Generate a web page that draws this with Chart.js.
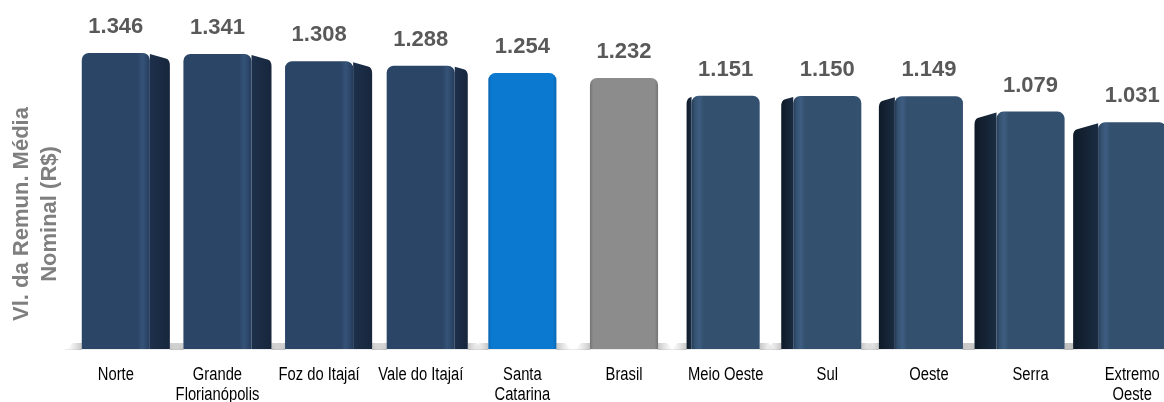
<!DOCTYPE html>
<html lang="pt-BR">
<head>
<meta charset="utf-8">
<title>Remuneração média nominal por mesorregião</title>
<script src="https://cdn.jsdelivr.net/npm/chart.js@4.4.1/dist/chart.umd.min.js"></script>
<style>
  html, body { margin: 0; padding: 0; background: #fff; overflow: hidden; }
  #wrap { position: relative; width: 1183px; height: 402px; }
</style>
</head>
<body>
<div id="wrap"><canvas id="chart"></canvas></div>
<script>
// Mesorregiões de SC, estado e país
const regioes = [
    'Norte', ['Grande', 'Florianópolis'], 'Foz do Itajaí', 'Vale do Itajaí',
    ['Santa', 'Catarina'], 'Brasil', 'Meio Oeste', 'Sul', 'Oeste', 'Serra',
    ['Extremo', 'Oeste']
];
// Remuneração média nominal (R$)
const remuneracao = [1346, 1341, 1308, 1288, 1254, 1232, 1151, 1150, 1149, 1079, 1031];

const eixoTitulo = ['Vl. da Remun. Média', 'Nominal (R$)'];

// Visual: profundidade da face lateral de cada barra (px)
const profundidade = [20, 20, 19, 13, 0, 0, 5, 12, 16, 22, 25];
const IDX_SC = 4, IDX_BR = 5;

function formatBR(v) {
    return String(v).replace(/\B(?=(\d{3})+(?!\d))/g, '.');
}

function ladoFace(i) {
    if (i < IDX_SC) return 1;    // face à direita
    if (i > IDX_BR) return -1;   // face à esquerda
    return 0;
}

// Cor da face frontal com um leve brilho junto à aresta lateral
function corFrente(ctx) {
    const chart = ctx.chart;
    const i = ctx.dataIndex;
    if (!chart.chartArea) return '#2c4668';
    const x = chart.scales.x.getPixelForValue(i);
    const w = chart.scales.x.getPixelForValue(1) - chart.scales.x.getPixelForValue(0);
    const half = w * 0.67 / 2;
    const g = chart.ctx.createLinearGradient(x - half, 0, x + half, 0);
    if (i === IDX_SC) {
        g.addColorStop(0, '#0a66b2');
        g.addColorStop(0.05, '#0b79d0');
        g.addColorStop(0.95, '#0b79d0');
        g.addColorStop(1, '#0a66b2');
        return g;
    }
    if (i === IDX_BR) {
        g.addColorStop(0, '#747474');
        g.addColorStop(0.05, '#8c8c8c');
        g.addColorStop(0.95, '#8c8c8c');
        g.addColorStop(1, '#747474');
        return g;
    }
    const base = i < IDX_SC ? '#2b4567' : '#33506f';
    const luz = i < IDX_SC ? '#355378' : '#3e5d81';
    const borda = i < IDX_SC ? '#243b5b' : '#243a55';
    if (ladoFace(i) === 1) {
        g.addColorStop(0, base);
        g.addColorStop(0.82, base);
        g.addColorStop(0.89, luz);
        g.addColorStop(0.96, base);
        g.addColorStop(1, borda);
    } else {
        g.addColorStop(0, borda);
        g.addColorStop(0.04, base);
        g.addColorStop(0.11, luz);
        g.addColorStop(0.18, base);
        g.addColorStop(1, base);
    }
    return g;
}

function sombra(ctx, x0, base, sentido) {
    const x1 = x0 + sentido * 15;
    const g = ctx.createLinearGradient(x0, 0, x1, 0);
    g.addColorStop(0, 'rgba(120,120,120,0.42)');
    g.addColorStop(1, 'rgba(170,170,170,0)');
    ctx.fillStyle = g;
    ctx.beginPath();
    ctx.moveTo(x0, base + 1);
    ctx.lineTo(x1, base + 1);
    ctx.lineTo(x1 - sentido * 6, base - 6);
    ctx.lineTo(x0, base - 6);
    ctx.closePath();
    ctx.fill();
}

// Sombra no piso, faces laterais, rótulos e título do eixo
const faces3d = {
    id: 'faces3d',
    beforeDatasetsDraw(chart) {
        const ctx = chart.ctx;
        const meta = chart.getDatasetMeta(0);
        ctx.save();
        meta.data.forEach((bar, i) => {
            const { x, y, base, width } = bar.getProps(['x', 'y', 'base', 'width'], true);
            const lado = ladoFace(i);
            const d = profundidade[i];
            let esq = x - width / 2, dir = x + width / 2;
            if (lado === 1) dir += d;
            if (lado === -1) esq -= d;

            sombra(ctx, esq, base, -1);
            sombra(ctx, dir, base, 1);

            if (!lado) return;
            const aresta = lado === 1 ? x + width / 2 : x - width / 2;
            const fora = aresta + lado * d;
            const queda = d * 0.28;
            const gl = ctx.createLinearGradient(aresta, 0, fora, 0);
            if (lado === 1) {
                gl.addColorStop(0, '#1d304b');
                gl.addColorStop(1, '#17263c');
            } else {
                gl.addColorStop(0, '#1b2c42');
                gl.addColorStop(1, '#0e1a27');
            }
            ctx.fillStyle = gl;
            ctx.beginPath();
            ctx.moveTo(aresta, y + 1);
            ctx.lineTo(fora - lado * 4, y + queda);
            ctx.quadraticCurveTo(fora, y + queda + 1, fora, y + queda + 7);
            ctx.lineTo(fora, base);
            ctx.lineTo(aresta, base);
            ctx.closePath();
            ctx.fill();
        });
        ctx.restore();
    },
    afterDatasetsDraw(chart) {
        const ctx = chart.ctx;
        const meta = chart.getDatasetMeta(0);
        ctx.save();
        ctx.font = 'bold 22px "Liberation Sans", Arial, sans-serif';
        ctx.fillStyle = '#595959';
        ctx.textAlign = 'center';
        ctx.textBaseline = 'alphabetic';
        meta.data.forEach((bar, i) => {
            ctx.fillText(formatBR(remuneracao[i]), bar.x, bar.y - 20);
        });
        ctx.restore();
    },
    afterDraw(chart) {
        const ctx = chart.ctx;
        const xs = chart.scales.x;
        const fundo = chart.chartArea.bottom;

        // rótulos das categorias em fonte estreita
        ctx.save();
        ctx.font = '18px "Liberation Sans", Arial, sans-serif';
        ctx.fillStyle = '#000';
        ctx.textAlign = 'center';
        ctx.textBaseline = 'middle';
        regioes.forEach((rot, i) => {
            const linhas = Array.isArray(rot) ? rot : [rot];
            const cx = xs.getPixelForValue(i);
            linhas.forEach((txt, k) => {
                ctx.save();
                ctx.translate(cx, fundo + 26 + k * 20);
                ctx.scale(0.82, 1);
                ctx.fillText(txt, 0, 0);
                ctx.restore();
            });
        });
        ctx.restore();

        // título do eixo vertical
        ctx.save();
        ctx.font = 'bold 22px "Liberation Sans", Arial, sans-serif';
        ctx.fillStyle = '#7f7f7f';
        ctx.textAlign = 'center';
        ctx.textBaseline = 'alphabetic';
        [28, 56].forEach((bx, k) => {
            ctx.save();
            ctx.translate(bx, 214);
            ctx.rotate(-Math.PI / 2);
            ctx.fillText(eixoTitulo[k], 0, 0);
            ctx.restore();
        });
        ctx.restore();
    }
};

new Chart(document.getElementById('chart'), {
    type: 'bar',
    data: {
        labels: regioes,
        datasets: [{
            label: 'Remuneração média nominal',
            data: remuneracao,
            backgroundColor: corFrente,
            borderWidth: 0,
            borderRadius: { topLeft: 7, topRight: 7, bottomLeft: 0, bottomRight: 0 },
            borderSkipped: false,
            barPercentage: 0.67,
            categoryPercentage: 1
        }]
    },
    options: {
        responsive: true,
        maintainAspectRatio: false,
        animation: false,
        layout: {
            padding: { left: 65, right: 0, top: 19, bottom: 53 }
        },
        plugins: {
            legend: { display: false },
            tooltip: { enabled: false }
        },
        scales: {
            x: {
                grid: { display: false, drawTicks: false },
                border: { display: true, color: '#ececec' },
                ticks: { display: false }
            },
            y: {
                display: false,
                min: 0,
                max: 1500
            }
        }
    },
    plugins: [faces3d]
});
</script>
</body>
</html>
